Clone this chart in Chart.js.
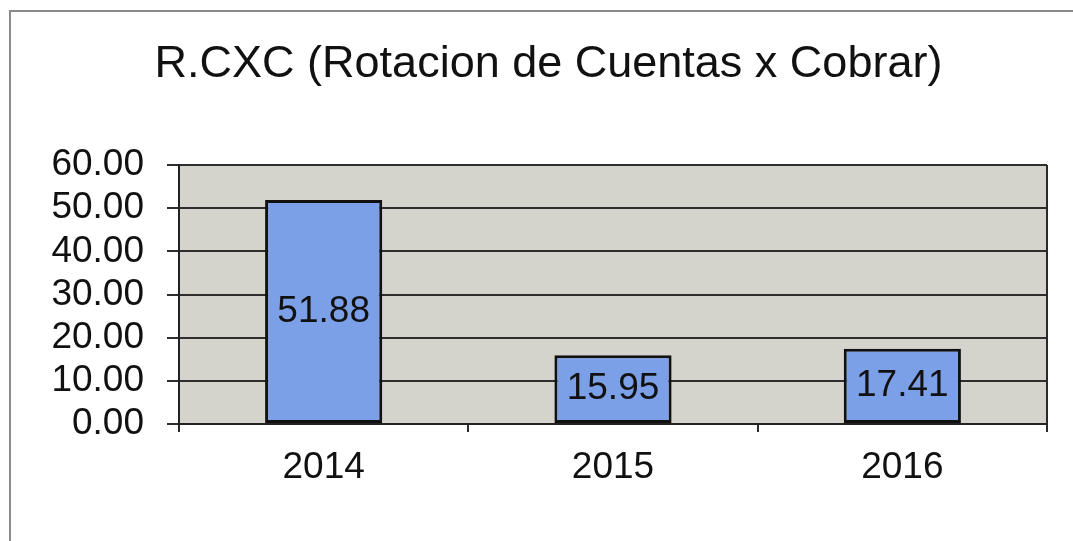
<!DOCTYPE html>
<html>
<head>
<meta charset="utf-8">
<script src="https://cdn.jsdelivr.net/npm/chart.js@4/dist/chart.umd.min.js"></script>
<style>
    body { margin: 0; background: #fff; }
    #wrap { position: relative; width: 1073px; height: 541px; }
</style>
</head>
<body>
<div id="wrap"><canvas id="myChart" width="1073" height="541"></canvas></div>
<script>
const titleText = 'R.CXC (Rotacion de Cuentas x Cobrar)'
const years = ['2014', '2015', '2016']
const rotacion = [51.88, 15.95, 17.41]
const yTicks = [0, 10, 20, 30, 40, 50, 60]

const fontFamily = '"Liberation Sans", Arial, sans-serif'

// gray page frame + plot area background and border
const framePlugin = {
    id: 'framePlugin',
    beforeDraw: chart => {
        const ctx = chart.ctx
        const a = chart.chartArea
        ctx.save()
        ctx.strokeStyle = '#8a8a8a'
        ctx.lineWidth = 2
        ctx.beginPath()
        ctx.moveTo(10, 600)
        ctx.lineTo(10, 11)
        ctx.lineTo(1100, 11)
        ctx.stroke()
        ctx.fillStyle = '#d5d4cc'
        ctx.fillRect(a.left, a.top, a.right - a.left, a.bottom - a.top)
        ctx.restore()
    },
    afterDatasetsDraw: chart => {
        const ctx = chart.ctx
        const a = chart.chartArea
        ctx.save()
        ctx.strokeStyle = '#2a2a2a'
        ctx.lineWidth = 2
        ctx.beginPath()
        ctx.moveTo(a.right, a.top)
        ctx.lineTo(a.right, a.bottom + 8)
        ctx.stroke()
        // value labels in the middle of each bar
        ctx.fillStyle = '#111'
        ctx.font = '37px ' + fontFamily
        ctx.textAlign = 'center'
        ctx.textBaseline = 'middle'
        chart.getDatasetMeta(0).data.forEach((bar, i) => {
            ctx.fillText(rotacion[i].toFixed(2), bar.x, (bar.y + bar.base) / 2)
        })
        ctx.restore()
    }
}

const ctx = document.getElementById('myChart').getContext('2d')
const chart = new Chart(ctx, {
    type: 'bar',
    data: {
        labels: years,
        datasets: [
            {
                label: 'R.CXC',
                data: rotacion,
                backgroundColor: '#7ca0e8',
                borderColor: '#111',
                borderWidth: 3,
                borderSkipped: false,
                barPercentage: 0.405,
                categoryPercentage: 1
            }
        ]
    },
    options: {
        responsive: false,
        animation: false,
        devicePixelRatio: 1,
        layout: {
            padding: { left: 50, right: 26, top: 0, bottom: 0 }
        },
        plugins: {
            legend: { display: false },
            tooltip: { enabled: false },
            title: {
                display: true,
                text: titleText,
                color: '#111',
                font: { family: fontFamily, size: 45, weight: 'normal' },
                padding: { top: 38, bottom: 73 }
            }
        },
        scales: {
            x: {
                grid: {
                    drawOnChartArea: false,
                    color: '#2a2a2a',
                    lineWidth: 2,
                    tickLength: 8
                },
                border: { display: true, color: '#222', width: 2 },
                ticks: {
                    color: '#111',
                    padding: 14,
                    font: { family: fontFamily, size: 37 }
                },
                afterFit: scale => { scale.height = 117 }
            },
            y: {
                min: 0,
                max: 60,
                afterBuildTicks: scale => {
                    scale.ticks = yTicks.map(v => ({ value: v }))
                },
                grid: {
                    color: '#2e2e2e',
                    lineWidth: 2,
                    tickLength: 12
                },
                border: { display: true, color: '#222', width: 2 },
                ticks: {
                    color: '#111',
                    padding: 23,
                    autoSkip: false,
                    font: { family: fontFamily, size: 37 },
                    callback: v => v.toFixed(2)
                },
                afterFit: scale => { scale.width = 129 }
            }
        }
    },
    plugins: [framePlugin]
})
</script>
</body>
</html>
